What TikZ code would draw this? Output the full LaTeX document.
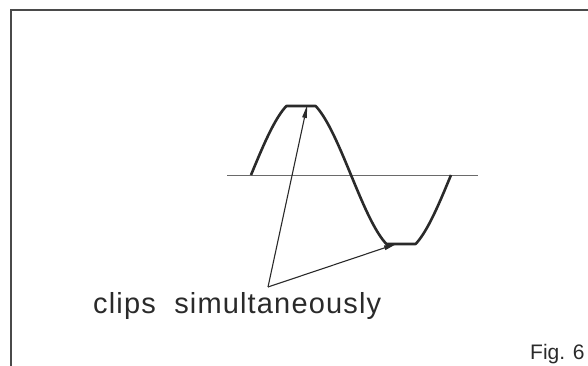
\documentclass[tikz,border=0pt]{standalone}
\usepackage{fontspec}
\setmainfont{Liberation Sans}
\newfontfamily\labelfont[LetterSpace=4]{Liberation Sans}
\usetikzlibrary{arrows.meta}
\definecolor{ink}{HTML}{2A2A2A}
\tikzset{
  frame/.style={draw=ink!85, line width=2pt},
  axisline/.style={draw=ink!70, line width=0.9pt},
  wave/.style={draw=ink, line width=2.6pt, line join=round},
  pointer/.style={draw=ink, line width=1.1pt, -{Triangle[length=13pt,width=4.5pt]}, shorten >=-1pt},
  labeltext/.style={inner sep=0pt, text=ink, font=\labelfont\fontsize{29}{32}\selectfont},
  figtext/.style={inner sep=0pt, text=ink, font=\fontsize{21}{24}\selectfont},
}
\begin{document}
\begin{tikzpicture}[x=1pt, y=-1pt]
\useasboundingbox (0,0) rectangle (588,366);
\clip (0,0) rectangle (588,366);
% frame
\draw[frame] (11,370) -- (11,10) -- (592,10);
% axis
\draw[axisline] (227,175) -- (478,175);
% clipped sine wave
\draw[wave] plot[domain=251:451, samples=401]
  (\x, {175 - max(-69, min(69, 77*sin(1.8*(\x-251))))});
% label and pointers
\node[labeltext, anchor=base west] (lbl) at (93,313) {clips\ \ simultaneously};
\coordinate (apex) at (268,287);
\coordinate (tipA) at (307,106);
\coordinate (tipB) at (396,244);
\draw[pointer] (apex) -- (tipA);
\draw[pointer] (apex) -- (tipB);
% figure number
\node[figtext, anchor=base west] (fig) at (530,359) {Fig. 6};
\end{tikzpicture}
\end{document}
